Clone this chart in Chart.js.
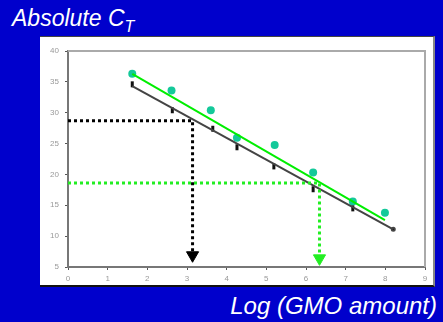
<!DOCTYPE html>
<html lang="en">
<head>
    <meta charset="UTF-8">
    <title>Absolute CT</title>
    <script src="https://cdn.jsdelivr.net/npm/chart.js@4/dist/chart.umd.min.js"></script>
    <style>
        html, body {
            margin: 0;
            padding: 0;
            width: 443px;
            height: 322px;
            overflow: hidden;
            background: #0000cc;
            font-family: "Liberation Sans", Arial, sans-serif;
        }

        .titulo {
            position: absolute;
            left: 12px;
            top: 7px;
            color: white;
            font-size: 23px;
            font-style: italic;
            line-height: 1;
            white-space: nowrap;
        }

        .titulo span {
            font-size: 16px;
            position: relative;
            top: 6px;
        }

        .rotulo-x {
            position: absolute;
            right: 6px;
            top: 294px;
            color: white;
            font-size: 24px;
            font-style: italic;
            line-height: 1;
            white-space: nowrap;
        }

        .painel {
            position: absolute;
            left: 40px;
            top: 36px;
            width: 395px;
            height: 251px;
            background: white;
            box-sizing: border-box;
            border-top: 1px solid #444;
            border-right: 2px solid #888;
            border-bottom: 2px solid #111;
        }

        .painel canvas {
            position: absolute;
            left: 0;
            top: -1px;
        }
    </style>
</head>
<body>
<div class="titulo">Absolute C<span>T</span></div>

<div class="painel">
    <canvas id="grafico" width="395" height="251"></canvas>
</div>

<div class="rotulo-x">Log (GMO amount)</div>

<script>
    // valores
    const xTicks = [0, 1, 2, 3, 4, 5, 6, 7, 8, 9];
    const yTicks = [5, 10, 15, 20, 25, 30, 35, 40];

    const verdeX = [1.62, 2.61, 3.6, 4.26, 5.21, 6.18, 7.18, 7.99];
    const verdeY = [36.3, 33.6, 30.4, 25.95, 24.75, 20.3, 15.6, 13.8];

    const pretoX = [1.62, 2.63, 3.65, 4.26, 5.19, 6.18, 7.18];
    const pretoY = [34.6, 30.4, 27.4, 24.4, 21.3, 17.6, 14.5];

    const retaVerdeX = [1.62, 7.99];
    const retaVerdeY = [36.3, 12.6];
    const retaPretaX = [1.62, 8.2];
    const retaPretaY = [34.3, 11.1];

    const guiaPretaX = [0, 3.14, 3.14];
    const guiaPretaY = [28.7, 28.7, 7.2];
    const guiaVerdeX = [0, 6.34, 6.34];
    const guiaVerdeY = [18.6, 18.6, 6.8];

    const setaPreta = {x: 3.14, y: 6.9};
    const setaVerde = {x: 6.34, y: 6.4};

    const pontos = (xs, ys) => xs.map((x, i) => ({x: x, y: ys[i]}));

    // moldura superior e direita da área do gráfico
    const moldura = {
        id: 'moldura',
        afterDraw(chart) {
            const {ctx, chartArea: a} = chart;
            ctx.save();
            ctx.strokeStyle = '#aaa';
            ctx.lineWidth = 2;
            ctx.beginPath();
            ctx.moveTo(a.left, a.top);
            ctx.lineTo(a.right, a.top);
            ctx.lineTo(a.right, a.bottom);
            ctx.stroke();
            ctx.restore();
        }
    };

    const ctx = document.getElementById("grafico").getContext("2d");
    new Chart(ctx, {
        type: 'scatter',
        data: {
            datasets: [
                {
                    data: pontos(guiaPretaX, guiaPretaY), showLine: true,
                    borderColor: '#000', borderWidth: 3, borderDash: [3, 3], pointRadius: 0
                },
                {
                    data: pontos(guiaVerdeX, guiaVerdeY), showLine: true,
                    borderColor: '#22ee22', borderWidth: 3, borderDash: [3, 3], pointRadius: 0
                },
                {
                    data: [setaPreta], pointStyle: 'triangle', rotation: 180, pointRadius: 7,
                    backgroundColor: '#000', borderColor: '#000', borderWidth: 1
                },
                {
                    data: [setaVerde], pointStyle: 'triangle', rotation: 180, pointRadius: 7,
                    backgroundColor: '#22ee22', borderColor: '#22ee22', borderWidth: 1
                },
                {
                    data: pontos(retaPretaX, retaPretaY), showLine: true,
                    borderWidth: 2, pointRadius: [0, 1.5],
                    backgroundColor: '#000', borderColor: '#444'
                },
                {
                    data: pontos(pretoX, pretoY), pointStyle: 'line', rotation: 90,
                    pointRadius: 3, borderWidth: 3, borderColor: '#111'
                },
                {
                    data: pontos(retaVerdeX, retaVerdeY), showLine: true,
                    borderColor: '#00ee00', borderWidth: 2, pointRadius: 0
                },
                {
                    data: pontos(verdeX, verdeY), pointRadius: 4,
                    backgroundColor: '#14c99a', borderColor: '#14c99a', borderWidth: 0
                }
            ]
        },
        options: {
            responsive: false,
            animation: false,
            events: [],
            layout: {padding: {left: 0, top: 15, right: 10, bottom: 0}},
            plugins: {legend: {display: false}, tooltip: {enabled: false}},
            scales: {
                x: {
                    min: 0, max: 9,
                    afterBuildTicks: s => { s.ticks = xTicks.map(v => ({value: v})); },
                    afterFit: s => { s.height = 20; },
                    border: {display: true, color: '#777', width: 2},
                    grid: {display: true, drawOnChartArea: false, tickLength: 3, color: '#555'},
                    ticks: {color: '#999', font: {size: 8, family: 'Liberation Sans'}, padding: 4}
                },
                y: {
                    min: 5, max: 40,
                    afterBuildTicks: s => { s.ticks = yTicks.map(v => ({value: v})); },
                    afterFit: s => { s.width = 28; },
                    border: {display: true, color: '#777', width: 2},
                    grid: {display: true, drawOnChartArea: false, tickLength: 3, color: '#555'},
                    ticks: {color: '#999', font: {size: 8, family: 'Liberation Sans'}, padding: 6}
                }
            }
        },
        plugins: [moldura]
    });
</script>
</body>
</html>
